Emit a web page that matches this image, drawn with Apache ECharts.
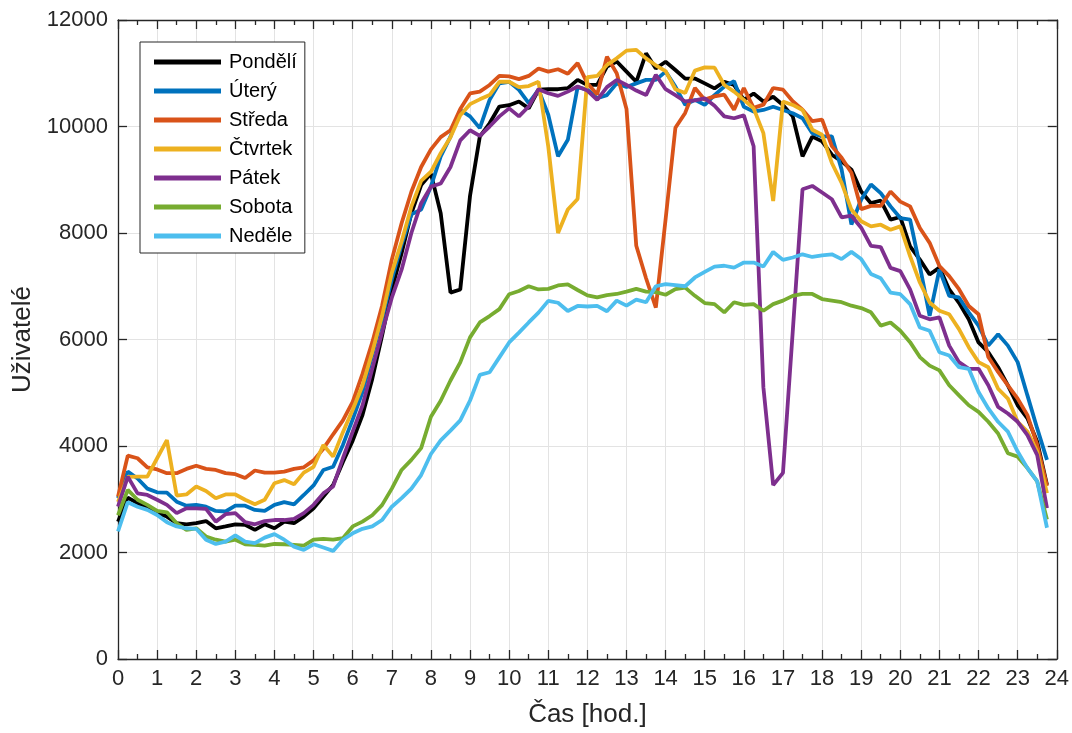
<!DOCTYPE html>
<html>
<head>
<meta charset="utf-8">
<script src="https://cdn.jsdelivr.net/npm/echarts@6/dist/echarts.min.js"></script>
<style>
html,body{margin:0;padding:0;background:#fff;}
#chart{width:1072px;height:733px;}
</style>
</head>
<body>
<div id="chart"></div>
<script>
// Time of day in hours, sampled every 15 minutes (0 .. 23.75)
const hours = [];
for (let i = 0; i < 96; i++) hours.push(i / 4);

const xTicks = [0,1,2,3,4,5,6,7,8,9,10,11,12,13,14,15,16,17,18,19,20,21,22,23,24];
const yTicks = [0,2000,4000,6000,8000,10000,12000];

const seriesNames = ['Pondělí','Úterý','Středa','Čtvrtek','Pátek','Sobota','Neděle'];

const pondeli = [2580,3030,2925,2860,2740,2675,2550,2530,2550,2590,2455,2490,2530,2520,2425,2530,2455,2580,2550,2675,2830,3050,3270,3700,
4100,4580,5260,6070,6940,7620,8370,8900,9115,8370,6880,6940,8700,9810,10060,10375,10400,10470,10340,10690,10700,10700,10720,10875,
10780,10780,11125,11220,11030,10840,11375,11090,11215,11060,10900,10900,10810,10715,10840,10780,10500,10620,10470,10560,10405,10190,9440,9810,
9720,9470,9345,9190,8780,8560,8610,8250,8300,7750,7500,7220,7350,6940,6690,6380,5945,5760,5480,5140,4765,4520,4080,3270];

const utery = [3020,3520,3390,3200,3130,3125,2955,2880,2895,2860,2780,2770,2880,2880,2800,2780,2895,2945,2905,3080,3260,3550,3610,4020,
4500,5010,5700,6380,7125,7780,8350,8440,8875,9440,9810,10310,10190,9970,10500,10810,10840,10690,10440,10690,10220,9440,9750,10740,
10690,10530,10590,10810,10740,10810,10875,10875,11030,10750,10405,10500,10405,10590,10750,10850,10370,10280,10310,10370,10310,10250,10155,9875,
9815,9815,9190,8160,8630,8910,8750,8500,8280,8250,7380,6445,7315,6820,6790,6510,6260,5885,6100,5885,5575,4950,4330,3740];

const streda = [3050,3820,3770,3600,3560,3490,3490,3570,3630,3570,3550,3490,3470,3400,3540,3500,3500,3520,3570,3600,3730,3950,4220,4480,
4830,5354,5945,6630,7500,8184,8775,9240,9570,9800,9930,10330,10620,10655,10780,10950,10940,10890,10950,11090,11030,11075,10990,11190,
10810,10600,11310,11000,10330,7760,7150,6600,8260,9975,10255,10723,10504,10566,10597,10317,10723,10349,10410,10723,10692,10473,10317,10099,
10130,9631,9413,9133,8448,8510,8510,8780,8590,8500,8095,7815,7380,7190,6945,6630,6475,5670,5390,5140,4890,4580,4020,3250];

const ctvrtek = [2950,3420,3425,3425,3770,4110,3070,3090,3240,3155,3020,3090,3090,2990,2905,2990,3300,3360,3280,3500,3610,4020,3800,4260,
4680,5136,5760,6440,7250,7840,8495,8980,9150,9500,9800,10210,10420,10510,10590,10840,10840,10740,10760,10840,9625,8000,8440,8640,
10925,10950,11155,11280,11425,11440,11280,11150,11040,10700,10630,11050,11110,11105,10780,10655,10500,10340,9875,8600,10470,10405,10310,9940,
9845,9315,8940,8440,8220,8125,8155,8060,8125,7565,7070,6695,6540,6475,6195,5855,5575,5480,5075,4890,4455,4270,3895,3115];

const patek = [2860,3425,3110,3080,2990,2895,2740,2830,2830,2820,2580,2720,2740,2570,2530,2590,2610,2610,2630,2740,2895,3110,3240,3770,
4270,4760,5450,6130,6785,7310,8000,8560,8870,8930,9240,9740,9930,9825,10000,10190,10340,10190,10375,10700,10625,10575,10655,10750,
10675,10500,10740,10875,10780,10675,10590,10970,10700,10590,10470,10490,10530,10390,10190,10155,10210,9630,5100,3265,3495,6150,8822,8884,
8760,8634,8293,8324,8100,7760,7735,7345,7285,6940,6445,6380,6415,5885,5575,5450,5450,5140,4735,4610,4455,4205,3830,2835];

const sobota = [2700,3175,2990,2895,2780,2755,2550,2425,2455,2300,2240,2205,2240,2155,2145,2130,2160,2155,2145,2130,2240,2255,2240,2270,
2490,2580,2700,2890,3200,3550,3740,3960,4550,4850,5230,5570,6040,6320,6440,6570,6850,6910,7000,6940,6950,7015,7035,6930,
6830,6790,6835,6855,6900,6950,6900,6890,6840,6945,6975,6820,6685,6665,6510,6700,6650,6665,6540,6665,6730,6820,6855,6855,
6760,6730,6700,6635,6590,6510,6260,6320,6165,5950,5670,5510,5420,5140,4950,4765,4640,4455,4235,3865,3800,3585,3335,2620];

const nedele = [2395,2945,2860,2800,2705,2570,2490,2455,2445,2240,2160,2205,2320,2205,2175,2280,2345,2240,2110,2050,2155,2095,2030,2240,
2360,2445,2490,2610,2860,3020,3200,3455,3850,4105,4290,4480,4855,5335,5385,5665,5945,6130,6320,6505,6725,6690,6535,6630,
6620,6630,6530,6730,6635,6750,6700,7000,7040,7020,7000,7165,7270,7370,7385,7350,7445,7445,7370,7645,7495,7540,7600,7550,
7580,7600,7510,7645,7510,7230,7150,6880,6850,6665,6225,6165,5760,5700,5480,5450,5015,4705,4455,4270,3895,3585,3335,2465];

const allValues = [pondeli, utery, streda, ctvrtek, patek, sobota, nedele];
const colors = ['#000000','#0072BD','#D95319','#EDB120','#7E2F8E','#77AC30','#4DBEEE'];

const FONT = '"Liberation Sans", Arial, Helvetica, sans-serif';
const AX = '#262626';

const chart = echarts.init(document.getElementById('chart'), null, {renderer: 'canvas'});

const xBase = {
  type: 'value', min: xTicks[0], max: xTicks[xTicks.length - 1], interval: 1,
  axisLine: {show: true, onZero: false, lineStyle: {color: AX, width: 1.3}},
  axisTick: {show: true, inside: true, length: 9, lineStyle: {color: AX, width: 1.3}},
  minorTick: {show: true, splitNumber: 2, length: 5, lineStyle: {color: AX, width: 1.3}},
  minorSplitLine: {show: false}
};
const yBase = {
  type: 'value', min: yTicks[0], max: yTicks[yTicks.length - 1], interval: 2000,
  axisLine: {show: true, onZero: false, lineStyle: {color: AX, width: 1.3}},
  axisTick: {show: true, inside: true, length: 9, lineStyle: {color: AX, width: 1.3}}
};

const option = {
  animation: false,
  backgroundColor: '#ffffff',
  color: colors,
  grid: {left: 118, top: 20, width: 939, height: 642, containLabel: false},
  legend: {
    orient: 'vertical',
    left: 140, top: 42,
    padding: [10, 8, 7, 14],
    itemGap: 9,
    itemWidth: 67, itemHeight: 5,
    icon: 'rect',
    backgroundColor: '#ffffff',
    borderColor: AX, borderWidth: 1,
    borderRadius: 0,
    textStyle: {fontFamily: FONT, fontSize: 20, color: '#000', lineHeight: 20, padding: [0, 0, 0, 3]},
    data: seriesNames
  },
  xAxis: [
    Object.assign({}, xBase, {
      position: 'bottom',
      axisLabel: {show: true, fontFamily: FONT, fontSize: 22, color: AX, margin: 9},
      splitLine: {show: true, lineStyle: {color: '#e3e3e3', width: 1}},
      name: 'Čas [hod.]', nameLocation: 'middle', nameGap: 43,
      nameTextStyle: {fontFamily: FONT, fontSize: 26, color: AX}
    }),
    Object.assign({}, xBase, {
      position: 'top',
      axisLabel: {show: false},
      splitLine: {show: false}
    })
  ],
  yAxis: [
    Object.assign({}, yBase, {
      position: 'left',
      axisLabel: {show: true, fontFamily: FONT, fontSize: 22, color: AX, margin: 10,
        formatter: v => String(v)},
      splitLine: {show: true, lineStyle: {color: '#e3e3e3', width: 1}},
      name: 'Uživatelé', nameLocation: 'middle', nameGap: 72, nameRotate: 90,
      nameTextStyle: {fontFamily: FONT, fontSize: 26, color: AX}
    }),
    Object.assign({}, yBase, {
      position: 'right',
      axisLabel: {show: false},
      splitLine: {show: false}
    })
  ],
  series: seriesNames.map((name, k) => ({
    name: name,
    type: 'line',
    xAxisIndex: 0, yAxisIndex: 0,
    data: hours.map((h, i) => [h, allValues[k][i]]),
    showSymbol: false,
    symbol: 'none',
    lineStyle: {width: 3.8, color: colors[k]},
    itemStyle: {color: colors[k]},
    emphasis: {disabled: true}
  }))
};

chart.setOption(option);
</script>
</body>
</html>
